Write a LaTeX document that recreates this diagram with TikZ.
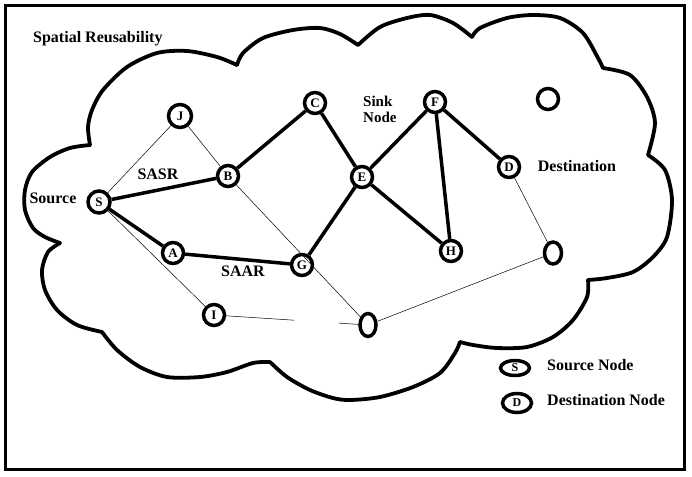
\documentclass[tikz,border=0pt]{standalone}
\usepackage{fontspec}
\setmainfont{Liberation Serif}
\usetikzlibrary{shapes.geometric}
\begin{document}
\begin{tikzpicture}[x=1pt,y=-1pt,
  nd/.style={circle,draw,line width=3.5pt,minimum size=21pt,inner sep=0pt,fill=white,font=\bfseries\fontsize{13}{13}\selectfont},
  ov/.style={ellipse,draw,line width=3.5pt,inner sep=0pt,fill=white,font=\bfseries\fontsize{12}{12}\selectfont},
  thick edge/.style={line width=3.5pt},
  thin edge/.style={line width=0.5pt},
  lab/.style={font=\bfseries\fontsize{16}{16}\selectfont,inner sep=0pt},
  cloud/.style={line width=3.8pt,line cap=round,line join=round}]
\useasboundingbox (0,0) rectangle (692,476);
\draw[line width=3pt] (5,6) rectangle (684,469);
% cloud
\draw[cloud] plot[smooth] coordinates {(60,243) (45,237) (33,228) (25,210) (25,190) (32,172) (50,157) (70,148) (90,145)};
\draw[cloud] plot[smooth] coordinates {(90,145) (88,127) (92,110) (103,90) (127,67) (157,53) (187,51) (217,57) (237,65)};
\draw[cloud] plot[smooth] coordinates {(237,65) (243,53) (263,38) (293,30) (320,28) (340,34) (358,45)};
\draw[cloud] plot[smooth] coordinates {(358,45) (380,27) (407,18) (430,15) (453,23) (472,37)};
\draw[cloud] plot[smooth] coordinates {(472,37) (480,28) (507,18) (533,15) (560,18) (583,33) (598,58) (603,68)};
\draw[cloud] plot[smooth] coordinates {(603,68) (630,75) (647,97) (655,123) (648,155)};
\draw[cloud] plot[smooth] coordinates {(648,155) (665,170) (672,200) (667,237) (653,257) (633,272) (607,278) (588,280)};
\draw[cloud] plot[smooth] coordinates {(588,280) (587,297) (573,320) (553,337) (527,347) (497,348) (473,345) (460,342)};
\draw[cloud] plot[smooth] coordinates {(460,342) (455,353) (440,373) (413,387) (380,397) (350,400) (333,398) (310,390) (287,377) (270,362)};
\draw[cloud] plot[smooth] coordinates {(270,362) (253,363) (227,372) (200,377) (167,377) (140,367) (117,350) (102,332)};
\draw[cloud] plot[smooth] coordinates {(102,332) (77,325) (57,310) (45,290) (42,270) (48,252) (60,243)};
% nodes
\node[nd,minimum size=23pt] (J) at (180,116) {J};
\node[nd] (C) at (315,103) {C};
\node[nd] (B) at (228,176) {B};
\node[nd,minimum size=22pt] (S) at (99,202) {S};
\node[nd] (F) at (435,102) {F};
\node[nd] (X) at (548,99) {};
\node[nd] (E) at (362,177) {E};
\node[nd] (D) at (509,167) {D};
\node[nd] (A) at (173,253) {A};
\node[nd] (G) at (302,265) {G};
\node[nd] (I) at (214,315) {I};
\node[nd] (H) at (451,251) {H};
\node[ov,minimum width=17pt,minimum height=22pt] (R) at (553,253) {};
\node[ov,minimum width=16pt,minimum height=23pt] (O) at (368,325) {};
\node[ov,minimum width=29pt,minimum height=15pt] (LS) at (515,368) {S};
\node[ov,minimum width=29pt,minimum height=19pt] (LD) at (517,403) {D};
% thick edges
\draw[thick edge] (S) -- (B);
\draw[thick edge] (B) -- (C);
\draw[thick edge] (C) -- (E);
\draw[thick edge] (E) -- (F);
\draw[thick edge] (F) -- (H);
\draw[thick edge] (F) -- (D);
\draw[thick edge] (E) -- (H);
\draw[thick edge] (E) -- (G);
\draw[thick edge] (G) -- (A);
\draw[thick edge] (A) -- (S);
% thin edges
\draw[thin edge] (S) -- (J);
\draw[thin edge] (J) -- (B);
\draw[thin edge] (B) -- (O);
\draw[thin edge] (S) -- (I);
\draw[thin edge,dash pattern=on 68pt off 45pt on 60pt] (I) -- (O);
\draw[thin edge] (O) -- (R);
\draw[thin edge] (D) -- (R);
% labels
\node[lab,anchor=west] (t1) at (33,39) {Spatial Reusability};
\node[lab] (t2) at (53,198) {Source};
\node[lab] (t3) at (158,174) {SASR};
\node[lab,anchor=west,align=left,font=\bfseries\fontsize{15}{16}\selectfont] (t4) at (363,109) {Sink\\Node};
\node[lab] (t5) at (577,166) {Destination};
\node[lab] (t6) at (243,271) {SAAR};
\node[lab,anchor=west] (t7) at (547,365) {Source Node};
\node[lab,anchor=west] (t8) at (547,400) {Destination Node};
\end{tikzpicture}
\end{document}
